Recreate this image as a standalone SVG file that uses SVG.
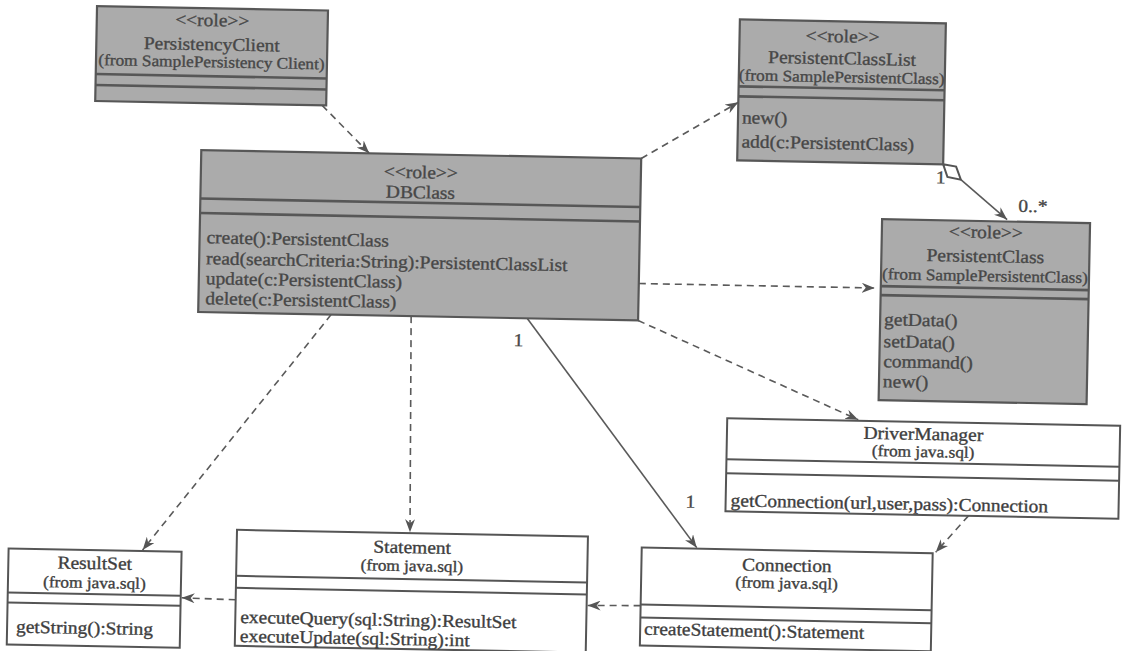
<svg xmlns="http://www.w3.org/2000/svg" width="1123" height="651" viewBox="0 0 1123 651">
  <defs>
    <style>
      text { font-family: "Liberation Serif", "Times New Roman", serif; font-size: 18px; fill: #474747; stroke: #474747; stroke-width: 0.35; transform-box: fill-box; transform: scaleX(1.08); }
      .c { text-anchor: middle; transform-origin: center; }
      .l { transform-origin: left; }
      .f { font-size: 16px; }
      .role rect { fill: #ababab; stroke: #575757; stroke-width: 2.2; }
      .role line { stroke: #575757; stroke-width: 2.6; }
      .plain rect { fill: #ffffff; stroke: #555555; stroke-width: 2; }
      .plain line { stroke: #555555; stroke-width: 2; }
      .plain text { fill: #3e3e3e; stroke: #3e3e3e; }
      .dep { fill: none; stroke: #5a5a5a; stroke-width: 1.6; stroke-dasharray: 7 5; marker-end: url(#arrow); }
      .assoc { fill: none; stroke: #5a5a5a; stroke-width: 1.6; marker-end: url(#arrow); }
      .diamond { fill: #ffffff; stroke: #555555; stroke-width: 2; }
    </style>
    <marker id="arrow" viewBox="0 0 14 10" refX="13" refY="5" markerWidth="14" markerHeight="10" markerUnits="userSpaceOnUse" orient="auto">
      <path d="M0,0 L13,5 L0,10 L4,5 z" fill="#555555"/>
    </marker>
  </defs>

  <rect x="0" y="0" width="1123" height="651" fill="#ffffff"/>

  <!-- whole sheet sits slightly turned -->
  <g transform="rotate(1.1 561 325)">

    <g id="connectors">
      <path class="dep" d="M318,110 L366,157"/>
      <path class="dep" d="M638,157 L734,99"/>
      <path class="diamond" d="M940,157 L953,159 L958,172 L944.5,169.5 Z"/>
      <path class="assoc" d="M958,172 L1005,211"/>
      <path class="dep" d="M638,282 L874,282"/>
      <path class="dep" d="M638,319 L860,414"/>
      <path class="assoc" d="M527,319 L701,545"/>
      <path class="dep" d="M411,319 L414,535"/>
      <path class="dep" d="M331,319 L147,558"/>
      <path class="dep" d="M972,508 L940,545"/>
      <path class="dep" d="M646,604 L593,605"/>
      <path class="dep" d="M241,606 L187,605"/>
      <text class="l" x="514" y="347">1</text>
      <text class="l" x="689" y="505">1</text>
      <text class="l" x="933" y="176">1</text>
      <text class="l" x="1016" y="203">0..*</text>
    </g>

    <g id="PersistencyClient" class="role">
      <rect x="91" y="15" width="231" height="95"/>
      <line x1="91" y1="83" x2="322" y2="83"/>
      <line x1="91" y1="94" x2="322" y2="94"/>
      <text class="c" x="206.5" y="33">&lt;&lt;role&gt;&gt;</text>
      <text class="c" x="206.5" y="57">PersistencyClient</text>
      <text class="c f" x="206.5" y="74">(from SamplePersistency Client)</text>
    </g>

    <g id="DBClass" class="role">
      <rect x="198" y="157" width="440" height="162"/>
      <line x1="198" y1="205.5" x2="638" y2="205.5"/>
      <line x1="198" y1="220" x2="638" y2="220"/>
      <text class="c" x="418" y="181">&lt;&lt;role&gt;&gt;</text>
      <text class="c" x="418" y="201">DBClass</text>
      <text class="l" x="205" y="250">create():PersistentClass</text>
      <text class="l" x="205" y="271">read(searchCriteria:String):PersistentClassList</text>
      <text class="l" x="205" y="291">update(c:PersistentClass)</text>
      <text class="l" x="205" y="311">delete(c:PersistentClass)</text>
    </g>

    <g id="PersistentClassList" class="role">
      <rect x="734" y="16" width="206" height="141"/>
      <line x1="734" y1="83" x2="940" y2="83"/>
      <line x1="734" y1="93" x2="940" y2="93"/>
      <text class="c" x="837" y="37">&lt;&lt;role&gt;&gt;</text>
      <text class="c" x="837" y="59">PersistentClassList</text>
      <text class="c f" x="837" y="77">(from SamplePersistentClass)</text>
      <text class="l" x="738" y="120">new()</text>
      <text class="l" x="738" y="144">add(c:PersistentClass)</text>
    </g>

    <g id="PersistentClass" class="role">
      <rect x="880" y="213" width="208" height="181"/>
      <line x1="880" y1="280" x2="1088" y2="280"/>
      <line x1="880" y1="289" x2="1088" y2="289"/>
      <text class="c" x="984" y="230">&lt;&lt;role&gt;&gt;</text>
      <text class="c" x="984" y="254">PersistentClass</text>
      <text class="c f" x="984" y="273">(from SamplePersistentClass)</text>
      <text class="l" x="884" y="319">getData()</text>
      <text class="l" x="884" y="341">setData()</text>
      <text class="l" x="884" y="361">command()</text>
      <text class="l" x="884" y="381">new()</text>
    </g>

    <g id="DriverManager" class="plain">
      <rect x="729" y="415" width="393" height="93"/>
      <line x1="729" y1="456" x2="1122" y2="456"/>
      <line x1="729" y1="470" x2="1122" y2="470"/>
      <text class="c" x="925.5" y="433">DriverManager</text>
      <text class="c f" x="925.5" y="450">(from java.sql)</text>
      <text class="l" x="734" y="503">getConnection(url,user,pass):Connection</text>
    </g>

    <g id="ResultSet" class="plain">
      <rect x="13" y="559" width="173" height="96"/>
      <line x1="13" y1="603" x2="186" y2="603"/>
      <line x1="13" y1="613" x2="186" y2="613"/>
      <text class="c" x="99.5" y="578">ResultSet</text>
      <text class="c f" x="99.5" y="597">(from java.sql)</text>
      <text class="l" x="22" y="643">getString():String</text>
    </g>

    <g id="Statement" class="plain">
      <rect x="241" y="536" width="351" height="116"/>
      <line x1="241" y1="582" x2="592" y2="582"/>
      <line x1="241" y1="594" x2="592" y2="594"/>
      <text class="c" x="416.5" y="556">Statement</text>
      <text class="c f" x="416.5" y="574">(from java.sql)</text>
      <text class="l" x="246" y="629">executeQuery(sql:String):ResultSet</text>
      <text class="l" x="246" y="648">executeUpdate(sql:String):int</text>
    </g>

    <g id="Connection" class="plain">
      <rect x="646" y="546" width="291" height="98"/>
      <line x1="646" y1="603" x2="937" y2="603"/>
      <line x1="646" y1="616" x2="937" y2="616"/>
      <text class="c" x="791.5" y="567">Connection</text>
      <text class="c f" x="791.5" y="584">(from java.sql)</text>
      <text class="l" x="650" y="633">createStatement():Statement</text>
    </g>

  </g>
</svg>
